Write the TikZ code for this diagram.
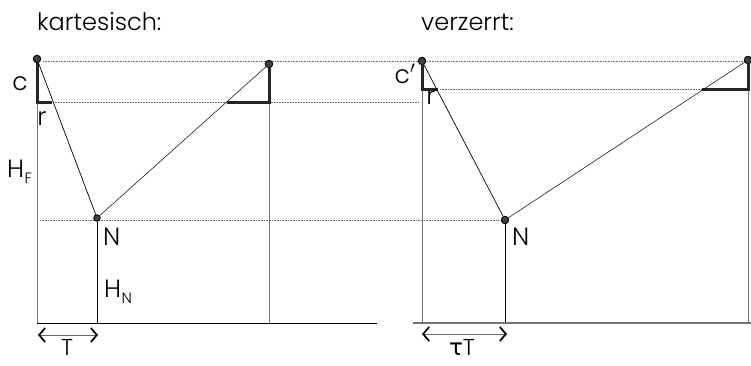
\documentclass[tikz,border=0pt]{standalone}
\usepackage{fontspec}
\setmainfont{Poppins}[UprightFont=* Light]
\newfontfamily\greekfont{DejaVu Sans}
\usetikzlibrary{positioning, arrows.meta}
\tikzset{
  ball/.style={
    circle, draw=black, fill=black!75, line width=0.9pt,
    inner sep=0pt, minimum size=7.5pt
  },
  guide/.style={densely dotted, draw=black!60, line width=0.6pt},
  post/.style={draw=black!55, line width=0.7pt},
  rope/.style={draw=black, line width=0.7pt},
  seg/.style={draw=black!85, line width=3pt},
  span/.style={
    {Straight Barb[length=6pt, width=14pt, line width=1.7pt, color=black]}-{Straight Barb[length=6pt, width=14pt, line width=1.7pt, color=black]},
    draw=black!60, line width=0.6pt
  }
}

\begin{document}
\begin{tikzpicture}[x=1pt, y=-1pt,
  lbl/.style={font=\fontsize{25}{25}\selectfont, inner sep=0pt, anchor=base},
  sub/.style={font=\fontsize{15}{15}\selectfont, inner sep=0pt, anchor=base west},
  title/.style={font=\fontsize{24}{24}\selectfont, inner sep=0pt, anchor=base west}
]
\useasboundingbox (0,0) rectangle (751,365);

%% titles
\node[title] (tKart) at (37,30) {kartesisch:};
\node[title] (tVerz) at (421,30) {verzerrt:};

%% guide lines (dotted)
\draw[guide] (43,61) -- (745,61);
\draw[guide] (53,102) -- (418,102);
\draw[guide] (440,89) -- (702,89);
\draw[guide] (40,220) -- (498,220);

%% KARTESISCH
\node[ball] (kF) at (37,59) {};
\node[ball, minimum size=6.5pt] (kN) at (97,218) {};
\node[ball] (kR) at (269,64) {};
\coordinate (kC) at (37,102);
\coordinate (kCr) at (52,102);
\coordinate (kRc) at (269,102);
\coordinate (kRr) at (227,102);
\coordinate (kG1) at (37,323);
\coordinate (kGN) at (97,323);
\coordinate (kGR) at (269,323);
\coordinate (kGE) at (377,323);

\draw[post] (kC) -- (kG1);
\draw[post] (kRc) -- (kGR);
\draw[rope] (kN) -- (kGN);
\draw[rope] (kG1) -- (kGE);
\draw[seg] (kF.south) -- (kC) -- (kCr);
\draw[seg] (kR.south) -- (kRc) -- (kRr);
\draw[rope] (kF) -- (kN);
\draw[rope, line width=0.5pt] (kN) -- (kR);

\node[lbl] (kc) at (20,90) {c};
\node[lbl] (kr) at (42,125) {r};
\node[lbl, anchor=base west] (kHF) at (7,177) {H};
\node[sub] (kHFs) at (kHF.base east) [yshift=-6pt] {F};
\node[lbl, anchor=base west] (kNl) at (103,245) {N};
\node[lbl, anchor=base west] (kHN) at (104,297) {H};
\node[sub] (kHNs) at (kHN.base east) [yshift=-6pt] {N};

\coordinate (kA1) at (38,335);
\coordinate (kA2) at (98,335);
\draw[span] (kA1) -- (kA2);
\node[lbl, font=\fontsize{23}{23}\selectfont] (kT) at (67,355) {T};

%% VERZERRT
\node[ball] (vF) at (422,61) {};
\node[ball] (vN) at (505,220) {};
\node[ball] (vR) at (748,60) {};
\coordinate (vC) at (422,89);
\coordinate (vCr) at (438,89);
\coordinate (vRc) at (748,89);
\coordinate (vRr) at (702,89);
\coordinate (vG0) at (413,323);
\coordinate (vG1) at (422,323);
\coordinate (vGN) at (505,323);
\coordinate (vGR) at (748,323);
\coordinate (vGE) at (751,323);

\draw[post] (vC) -- (vG1);
\draw[post] (vRc) -- (vGR);
\draw[rope] (vN) -- (vGN);
\draw[draw=black!55, line width=1.6pt] (vG0) -- (vGE);
\draw[seg] (vF.south) -- (vC) -- (vCr);
\draw[seg] (vR.south) -- (vRc) -- (vRr);
\draw[rope] (vF) -- (vN);
\draw[rope, line width=0.5pt] (vN) -- (vR);

\node[lbl] (vc) at (405,83) {c$'$};
\node[lbl] (vr) at (431,104) {r};
\node[lbl, anchor=base west] (vNl) at (512,245) {N};

\coordinate (vA1) at (422,334);
\coordinate (vA2) at (507,334);
\draw[span] (vA1) -- (vA2);
\node[lbl, font=\fontsize{23}{23}\selectfont] (vT) at (462,355) {{\greekfont τ}T};

\end{tikzpicture}
\end{document}
